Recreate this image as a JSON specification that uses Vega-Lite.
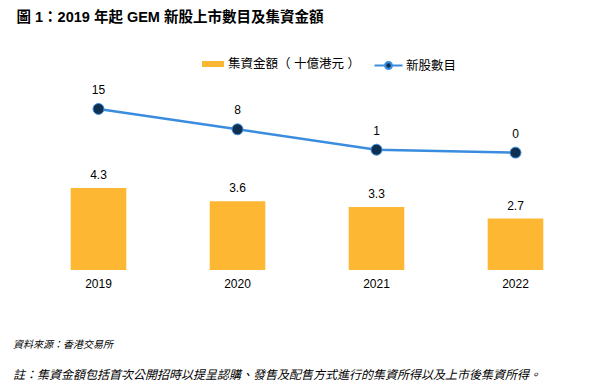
{
  "$schema": "https://vega.github.io/schema/vega-lite/v6.json",
  "width": 556,
  "height": 180,
  "autosize": {"type": "none"},
  "padding": {"left": 29, "top": 90, "right": 20, "bottom": 115},
  "background": "#ffffff",
  "config": {
    "font": "'Liberation Sans', 'Noto Sans CJK TC', sans-serif",
    "view": {"stroke": null}
  },
  "data": {
    "values": [
      {"year": "2019", "amount": 4.3, "count": 15},
      {"year": "2020", "amount": 3.6, "count": 8},
      {"year": "2021", "amount": 3.3, "count": 1},
      {"year": "2022", "amount": 2.7, "count": 0}
    ]
  },
  "title": {
    "text": "資料來源：香港交易所",
    "subtitle": "註：集資金額包括首次公開招時以提呈認購、發售及配售方式進行的集資所得以及上市後集資所得。",
    "orient": "bottom",
    "anchor": "start",
    "frame": "group",
    "dx": -16,
    "offset": 51,
    "fontSize": 10,
    "fontStyle": "italic",
    "fontWeight": "normal",
    "color": "#000000",
    "subtitleFontSize": 12,
    "subtitleFontStyle": "italic",
    "subtitleColor": "#000000",
    "subtitlePadding": 20
  },
  "encoding": {
    "x": {
      "field": "year",
      "type": "ordinal",
      "scale": {"paddingInner": 0.6, "paddingOuter": 0.3},
      "axis": {
        "title": null,
        "domain": false,
        "ticks": false,
        "tickSize": 0,
        "grid": false,
        "labelAngle": 0,
        "labelPadding": 8,
        "labelFontSize": 12,
        "labelColor": "#000000"
      }
    }
  },
  "layer": [
    {
      "layer": [
        {
          "mark": {"type": "bar"},
          "encoding": {
            "y": {
              "field": "amount",
              "type": "quantitative",
              "scale": {"domain": [0, 9.44], "nice": false, "zero": true},
              "axis": {
                "title": "圖 1：2019 年起 GEM 新股上市數目及集資金額",
                "labels": false,
                "ticks": false,
                "domain": false,
                "grid": false,
                "titleAngle": 0,
                "titleAlign": "left",
                "titleBaseline": "middle",
                "titleX": -13,
                "titleY": -73,
                "titleFontSize": 14.5,
                "titleFontWeight": "bold",
                "titleColor": "#000000"
              }
            },
            "fill": {
              "datum": "集資金額（ 十億港元 ）",
              "scale": {"range": ["#FDB732"]},
              "legend": {
                "orient": "none",
                "legendX": 173,
                "legendY": -37,
                "title": null,
                "direction": "horizontal",
                "padding": 0,
                "symbolType": "M-1,-0.273H1V0.273H-1Z",
                "symbolSize": 484,
                "symbolStrokeWidth": 0,
                "labelFontSize": 12.5,
                "labelColor": "#000000",
                "labelOffset": 4,
                "labelLimit": 300
              }
            }
          }
        },
        {
          "mark": {"type": "text", "dy": -13, "fontSize": 12, "color": "#000000", "baseline": "middle"},
          "encoding": {
            "y": {"field": "amount", "type": "quantitative", "scale": {"domain": [0, 9.44], "nice": false, "zero": true}},
            "text": {"field": "amount", "type": "quantitative", "format": ".1f"}
          }
        }
      ]
    },
    {
      "layer": [
        {
          "mark": {"type": "line", "strokeWidth": 2.5},
          "encoding": {
            "y": {"field": "count", "type": "quantitative", "scale": {"domain": [-40.3, 21.5], "nice": false, "zero": false}, "axis": null},
            "stroke": {
              "datum": "新股數目",
              "scale": {"range": ["#3A8DDE"]},
              "legend": {
                "orient": "none",
                "legendX": 344,
                "legendY": -40,
                "title": null,
                "direction": "horizontal",
                "padding": 0,
                "symbolType": "M-1,0H-0.24M0.24,0H1M-0.24,0A0.24,0.24,0,1,0,0.24,0A0.24,0.24,0,1,0,-0.24,0Z",
                "symbolSize": 784,
                "symbolStrokeWidth": 2.2,
                "symbolFillColor": "#0F3050",
                "labelFontSize": 12.5,
                "labelColor": "#000000",
                "labelOffset": 2,
                "encode": {"symbols": {"update": {"fill": {"value": "#0F3050"}, "fillOpacity": {"value": 1}}}}
              }
            }
          }
        },
        {
          "mark": {"type": "point", "filled": true, "fill": "#0F3050", "stroke": "#3A8DDE", "strokeWidth": 1, "size": 120, "opacity": 1},
          "encoding": {
            "y": {"field": "count", "type": "quantitative", "scale": {"domain": [-40.3, 21.5], "nice": false, "zero": false}, "axis": null}
          }
        },
        {
          "mark": {"type": "text", "dy": -19, "fontSize": 12, "color": "#000000", "baseline": "middle"},
          "encoding": {
            "y": {"field": "count", "type": "quantitative", "scale": {"domain": [-40.3, 21.5], "nice": false, "zero": false}, "axis": null},
            "text": {"field": "count", "type": "quantitative"}
          }
        }
      ]
    }
  ],
  "resolve": {"scale": {"y": "independent"}}
}
